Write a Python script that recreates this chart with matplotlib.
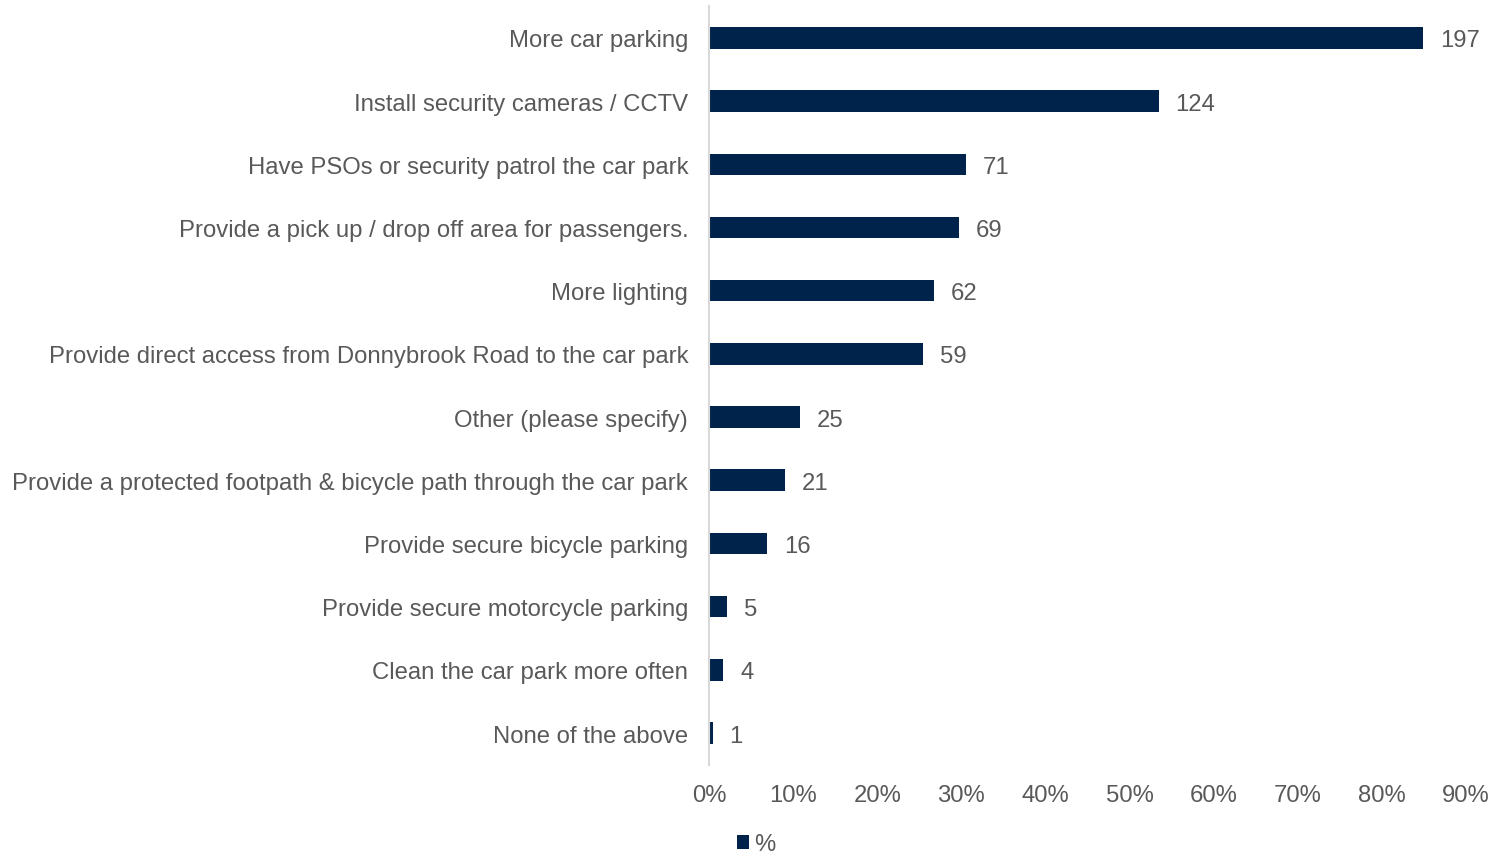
import matplotlib.pyplot as plt
from matplotlib.ticker import PercentFormatter

plt.rcParams['font.family'] = ['Liberation Sans', 'DejaVu Sans']

# Survey responses: improvements wanted for the car park
categories = [
    "More car parking",
    "Install security cameras / CCTV",
    "Have PSOs or security patrol the car park",
    "Provide a pick up / drop off area for passengers.",
    "More lighting",
    "Provide direct access from Donnybrook Road to the car park",
    "Other (please specify)",
    "Provide a protected footpath & bicycle path through the car park",
    "Provide secure bicycle parking",
    "Provide secure motorcycle parking",
    "Clean the car park more often",
    "None of the above",
]
counts = [197, 124, 71, 69, 62, 59, 25, 21, 16, 5, 4, 1]
respondents = 232

pct = [c / respondents * 100 for c in counts]

navy = '#00234b'
grey_text = '#595959'
fs = 17.2

fig = plt.figure(figsize=(14.91, 8.54), dpi=100)
ax = fig.add_axes([0.4755, 0.1035, 0.9832 - 0.4755, 0.9915 - 0.1035])

y = list(range(len(categories)))
ax.barh(y, pct, height=0.34, color=navy, label='%')

for yi, p, c in zip(y, pct, counts):
    ax.annotate(str(c), (p, yi), xytext=(12, 0), textcoords='offset points',
                va='center_baseline', ha='left', fontsize=fs, color=grey_text)

ax.set_yticks(y)
ax.set_yticklabels(categories, fontsize=fs, color=grey_text)
ax.set_ylim(len(categories) - 0.5, -0.5)
ax.set_xlim(0, 90)
ax.set_xticks(range(0, 91, 10))
ax.xaxis.set_major_formatter(PercentFormatter(decimals=0))
ax.tick_params(axis='x', length=0, labelsize=fs, labelcolor=grey_text, pad=14)
ax.tick_params(axis='y', length=0, pad=15)

for side in ['top', 'right', 'bottom']:
    ax.spines[side].set_visible(False)
ax.spines['left'].set_color('#d9d9d9')
ax.spines['left'].set_linewidth(1.5)

leg = fig.legend(loc='center', bbox_to_anchor=(0.507, 0.01), frameon=False,
                 fontsize=fs, handlelength=0.5, handleheight=0.5,
                 handletextpad=0.2)
for t in leg.get_texts():
    t.set_color(grey_text)

fig.savefig('out.png', dpi=100)
